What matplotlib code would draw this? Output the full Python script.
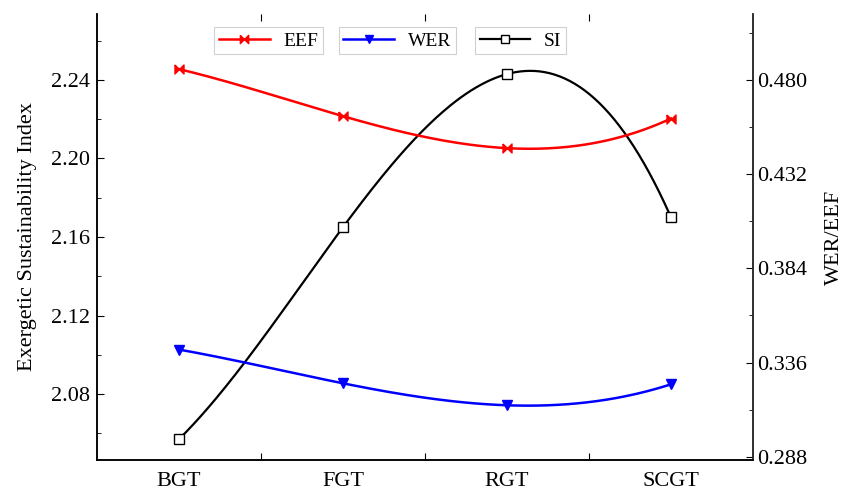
import numpy as np
import matplotlib
matplotlib.use("Agg")
import matplotlib.pyplot as plt
from matplotlib.ticker import MultipleLocator, FixedLocator

plt.rcParams['font.family'] = ['Liberation Serif', 'DejaVu Serif']

categories = ['BGT', 'FGT', 'RGT', 'SCGT']
si = [2.057, 2.165, 2.243, 2.170]
eef = [0.4856, 0.4616, 0.4453, 0.4604]
wer = [0.3426, 0.3254, 0.3142, 0.3249]

x = np.arange(len(categories)) + 0.5
xs = np.linspace(x[0], x[-1], 200)


def smooth(vals):
    # cubic through the points, like Origin's spline connection
    c = np.polyfit(x, vals, 3)
    return np.polyval(c, xs)


bowtie = [(-1, 1), (0, 0), (1, 1), (1, -1), (0, 0), (-1, -1), (-1, 1)]

fig = plt.figure(figsize=(8.45, 4.91), dpi=100)
ax = fig.add_axes([97/845, 31/491, 656/845, 446/491])
ax2 = ax.twinx()

ax.plot(xs, smooth(si), color='black', lw=1.6, zorder=3)
ax.plot(x, si, ls='none', marker='s', ms=6.5, mfc='white', mec='black', mew=1, zorder=4)

ax2.plot(xs, smooth(eef), color='#ff0000', lw=1.8)
ax2.plot(x, eef, ls='none', marker=bowtie, ms=6.5, color='#ff0000')
ax2.plot(xs, smooth(wer), color='#0000ff', lw=1.8)
ax2.plot(x, wer, ls='none', marker='v', ms=6.5, color='#0000ff')

ax.set_xlim(0, 4)
ax.set_ylim(2.0464, 2.2736)
ax2.set_ylim(0.2863, 0.5137)

ax.yaxis.set_major_locator(FixedLocator([2.08, 2.12, 2.16, 2.20, 2.24]))
ax.yaxis.set_minor_locator(MultipleLocator(0.02))
ax.set_yticklabels(['2.08', '2.12', '2.16', '2.20', '2.24'])
ax2.yaxis.set_major_locator(FixedLocator([0.288, 0.336, 0.384, 0.432, 0.480]))
ax2.yaxis.set_minor_locator(FixedLocator([0.312, 0.360, 0.408, 0.456, 0.504]))
ax2.set_yticklabels(['0.288', '0.336', '0.384', '0.432', '0.480'])

ax.xaxis.set_major_locator(FixedLocator([1, 2, 3]))
ax.xaxis.set_minor_locator(FixedLocator(list(x)))
ax.set_xticklabels([], minor=False)
ax.set_xticklabels(categories, minor=True)
ax.tick_params(axis='x', which='major', direction='in', length=5, top=True, labelbottom=False)
ax.tick_params(axis='x', which='minor', length=0, pad=9, labelsize=16)

ax.tick_params(axis='y', which='major', direction='in', length=5, labelsize=16, pad=5)
ax.tick_params(axis='y', which='minor', direction='in', length=3)
ax2.tick_params(axis='y', which='major', direction='in', length=5, labelsize=16, pad=3)
ax2.tick_params(axis='y', which='minor', direction='in', length=3)

for a in (ax, ax2):
    a.spines['top'].set_visible(False)
    for s in ('left', 'right', 'bottom'):
        a.spines[s].set_linewidth(1.1)
ax2.spines['right'].set_color('#333333')

ax.set_ylabel('Exergetic Sustainability Index', fontsize=16, labelpad=10)
ax2.set_ylabel('WER/EEF', fontsize=16, labelpad=13)

# three separate legend boxes, like the original
h_eef = plt.Line2D([], [], color='#ff0000', lw=1.8, marker=bowtie, ms=6)
h_wer = plt.Line2D([], [], color='#0000ff', lw=1.8, marker='v', ms=6)
h_si = plt.Line2D([], [], color='black', lw=1.6, marker='s', ms=6, mfc='white', mec='black')
spots = [(h_eef, 'EEF', 0.318), (h_wer, 'WER', 0.470), (h_si, 'SI', 0.616)]
for h, lab, cx in spots:
    lg = fig.legend([h], [lab], loc='center', bbox_to_anchor=(cx, 0.917),
                    fontsize=14, frameon=True, fancybox=False, framealpha=1,
                    edgecolor='#d0d0d0', handlelength=2.6, handletextpad=0.7,
                    borderpad=0.25, borderaxespad=0)
    lg.get_frame().set_linewidth(0.8)

fig.savefig('out.png', dpi=100)
